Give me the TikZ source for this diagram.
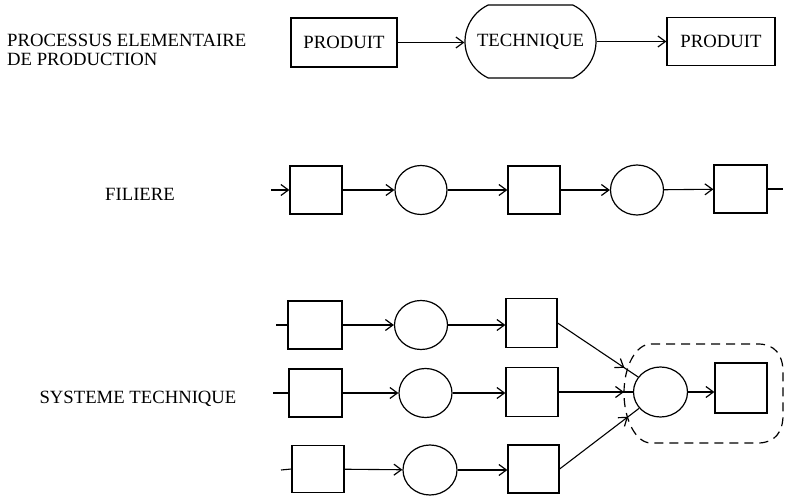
\documentclass[tikz,border=0pt]{standalone}
\usepackage{fontspec}
\setmainfont{Liberation Serif}
\usetikzlibrary{arrows.meta,shapes.geometric,shapes.misc,decorations.markings}
\tikzset{
  boxn/.style={draw, rectangle, line width=1.2pt, inner sep=0pt},
  ovaln/.style={draw, ellipse, line width=1.2pt, inner sep=0pt},
  lbl/.style={inner sep=0pt, font=\fontsize{18.7}{19}\selectfont},
  conn/.style={line width=1.1pt, -{Straight Barb[length=7.5pt,width=11pt,line width=1.2pt]}},
  plainc/.style={line width=1.1pt},
  midarrow/.style={line width=1.1pt, postaction={decorate}, decoration={markings,
      mark=at position #1 with {\arrow{Straight Barb[length=7.5pt,width=11pt,line width=1.2pt]}}}},
  dashbound/.style={line width=1.2pt, dash pattern=on 9pt off 6pt}
}
\begin{document}
\begin{tikzpicture}[x=1pt,y=-1pt]
\useasboundingbox (0,0) rectangle (785,500);

% ---- row 1
\node[lbl, anchor=west, align=left] (t1) at (7,49.5) {PROCESSUS ELEMENTAIRE\\DE PRODUCTION};
\node[boxn, lbl, minimum width=106pt, minimum height=49pt] (p1) at (344,42.5) {PRODUIT};
\node[draw, rounded rectangle, rounded rectangle arc length=130, line width=1.2pt, inner sep=0pt,
      lbl, minimum width=131pt, minimum height=73pt] (tech) at (530.5,41.5) {TECHNIQUE};
\node[boxn, lbl, minimum width=108pt, minimum height=48pt] (p2) at (721,41.5) {PRODUIT};
\draw[conn] (p1.east) -- (p1.east -| tech.west);
\draw[conn] (tech.east |- p2.west) -- (p2.west);

% ---- row 2
\node[lbl] (t2) at (140,194) {FILIERE};
\coordinate (fin) at (271,190);
\node[boxn, minimum width=52pt, minimum height=48pt] (f1) at (316,190) {};
\node[ovaln, minimum width=52pt, minimum height=49pt] (fc1) at (421,190) {};
\node[boxn, minimum width=52pt, minimum height=48pt] (f2) at (534,190) {};
\node[ovaln, minimum width=53pt, minimum height=50pt] (fc2) at (637,190) {};
\node[boxn, minimum width=53pt, minimum height=48pt] (f3) at (740.5,189) {};
\coordinate (fout) at (783,189);
\draw[conn] (fin) -- (f1.west);
\draw[conn] (f1) -- (fc1);
\draw[conn] (fc1) -- (f2);
\draw[conn] (f2) -- (fc2);
\draw[conn] (fc2) -- (f3);
\draw[plainc] (f3.east) -- (fout);

% ---- row 3
\node[lbl] (t3) at (138,399) {SYSTEME TECHNIQUE};

\coordinate (ain) at (276,325);
\node[boxn, minimum width=54pt, minimum height=48pt] (a1) at (315,325) {};
\node[ovaln, minimum width=53pt, minimum height=49pt] (ac) at (421,325) {};
\node[boxn, minimum width=51pt, minimum height=49pt] (a2) at (531.5,323) {};

\coordinate (bin) at (273,393);
\node[boxn, minimum width=53pt, minimum height=48pt] (b1) at (315.5,393) {};
\node[ovaln, minimum width=53pt, minimum height=49pt] (bc) at (425.5,393) {};
\node[boxn, minimum width=52pt, minimum height=49pt] (b2) at (532,392) {};

\coordinate (cin) at (281,470);
\node[boxn, minimum width=52pt, minimum height=47pt] (c1) at (318,469) {};
\node[ovaln, minimum width=54pt, minimum height=50pt] (cc) at (430,470) {};
\node[boxn, minimum width=51pt, minimum height=48pt] (c2) at (533.5,469) {};

\node[ovaln, minimum width=54pt, minimum height=50pt] (big) at (660.5,392) {};
\node[boxn, minimum width=52pt, minimum height=50pt] (fin3) at (741,388) {};

\draw[plainc] (ain) -- (a1.west);
\draw[conn] (a1) -- (ac);
\draw[conn] (ac) -- (ac -| a2.west);
\draw[plainc] (bin) -- (b1.west);
\draw[conn] (b1) -- (bc);
\draw[conn] (bc) -- (bc -| b2.west);
\draw[plainc] (cin) -- (c1.west);
\draw[conn] (c1) -- (cc);
\draw[conn] (cc) -- (cc -| c2.west);

\draw[midarrow=0.83] (a2.east) -- (big);
\draw[midarrow=0.88] (b2.east) -- (big);
\draw[midarrow=0.86] (c2.east) -- (big);
\draw[conn] (big) -- (big -| fin3.west);

% dashed boundary
\draw[dashbound] (651,344) -- (758,344) .. controls (775,344) and (783,355) .. (783,372)
  -- (783,415) .. controls (783,432) and (775,443) .. (758,443) -- (651,443)
  .. controls (636,443) and (624,420) .. (624,393) .. controls (624,366) and (636,344) .. (651,344);
\end{tikzpicture}
\end{document}
